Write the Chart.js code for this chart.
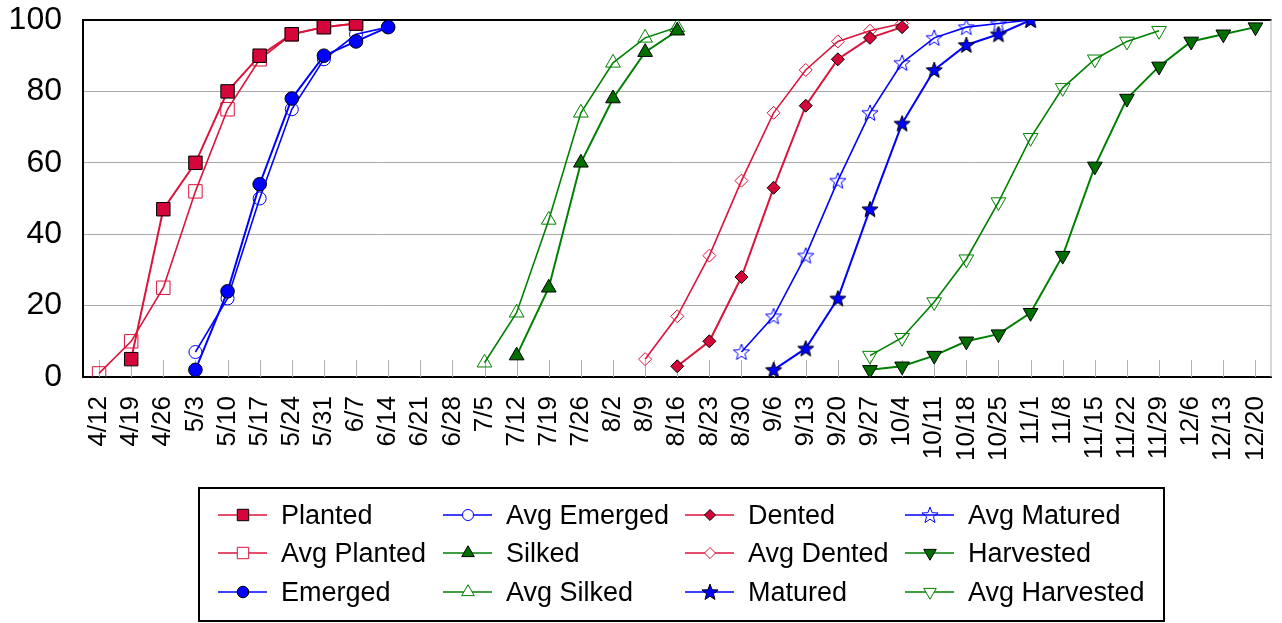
<!DOCTYPE html>
<html><head><meta charset="utf-8">
<script src="https://cdn.jsdelivr.net/npm/chart.js@4/dist/chart.umd.min.js"></script>
<style>html,body{margin:0;padding:0;background:#fff}canvas{display:block}</style>
</head><body><canvas id="c" width="1282" height="623"></canvas>
<script>
// ---- data ----
const weeks = ['4/12','4/19','4/26','5/3','5/10','5/17','5/24','5/31','6/7','6/14','6/21','6/28','7/5','7/12','7/19','7/26','8/2','8/9','8/16','8/23','8/30','9/6','9/13','9/20','9/27','10/4','10/11','10/18','10/25','11/1','11/8','11/15','11/22','11/29','12/6','12/13','12/20'];
const yTickValues = [0,20,40,60,80,100];

const planted = [5,47,60,80,90,96,98,99];                 const plantedStart = '4/19';
const avgPlanted = [1,10,25,52,75,89,96,98,99];           const avgPlantedStart = '4/12';
const emerged = [2,24,54,78,90,94,98];                    const emergedStart = '5/3';
const avgEmerged = [7,22,50,75,89,96,98];                 const avgEmergedStart = '5/3';
const silked = [6,25,60,78,91,97];                        const silkedStart = '7/12';
const avgSilked = [4,18,44,74,88,95,98];                  const avgSilkedStart = '7/5';
const dented = [3,10,28,53,76,89,95,98];                  const dentedStart = '8/16';
const avgDented = [5,17,34,55,74,86,94,97,99];            const avgDentedStart = '8/9';
const matured = [2,8,22,47,71,86,93,96,100];              const maturedStart = '9/6';
const avgMatured = [7,17,34,55,74,88,95,98,99,100];       const avgMaturedStart = '8/30';
const harvested = [2,3,6,10,12,18,34,59,78,87,94,96,98];  const harvestedStart = '9/27';
const avgHarvested = [6,11,21,33,49,67,81,89,94,97];      const avgHarvestedStart = '9/27';

function place(start, values) {
  const i0 = weeks.indexOf(start);
  return weeks.map((w, i) => (i >= i0 && i - i0 < values.length) ? values[i - i0] : null);
}

// ---- styles ----
const RED = '#dc143c', RED_FILL = '#d4063a';
const BLUE = '#0000ff', BLUE_FILL = '#0000ff';
const GREEN = '#008000', GREEN_FILL = '#006f00';

function makeStar(fill, stroke) {
  const c = document.createElement('canvas');
  c.width = 20; c.height = 20;
  const g = c.getContext('2d');
  g.beginPath();
  for (let k = 0; k < 10; k++) {
    const r = k % 2 === 0 ? 8.5 : 3.6;
    const a = -Math.PI / 2 + k * Math.PI / 5;
    const px = 10 + r * Math.cos(a), py = 10.6 + r * Math.sin(a);
    if (k === 0) g.moveTo(px, py); else g.lineTo(px, py);
  }
  g.closePath();
  if (fill) { g.fillStyle = fill; g.fill(); }
  g.lineWidth = 1; g.strokeStyle = stroke; g.stroke();
  return c;
}
const starFilled = makeStar(BLUE_FILL, '#000');
const starHollow = makeStar(null, BLUE);

const series = [
  {label:'Planted',       data: place(plantedStart, planted),           color: RED,   fill: RED_FILL,   style:'rect',     r:9.5, rot:0},
  {label:'Avg Planted',   data: place(avgPlantedStart, avgPlanted),     color: RED,   fill: null,       style:'rect',     r:9.5, rot:0},
  {label:'Emerged',       data: place(emergedStart, emerged),           color: BLUE,  fill: BLUE_FILL,  style:'circle',   r:6.8, rot:0},
  {label:'Avg Emerged',   data: place(avgEmergedStart, avgEmerged),     color: BLUE,  fill: null,       style:'circle',   r:6.5, rot:0},
  {label:'Silked',        data: place(silkedStart, silked),             color: GREEN, fill: GREEN_FILL, style:'triangle', r:8.5, rot:0},
  {label:'Avg Silked',    data: place(avgSilkedStart, avgSilked),       color: GREEN, fill: null,       style:'triangle', r:8.5, rot:0},
  {label:'Dented',        data: place(dentedStart, dented),             color: RED,   fill: RED_FILL,   style:'rectRot',  r:6.5, rot:0},
  {label:'Avg Dented',    data: place(avgDentedStart, avgDented),       color: RED,   fill: null,       style:'rectRot',  r:6.5, rot:0},
  {label:'Matured',       data: place(maturedStart, matured),           color: BLUE,  fill: BLUE_FILL,  style:'star',     r:8,   rot:0},
  {label:'Avg Matured',   data: place(avgMaturedStart, avgMatured),     color: BLUE,  fill: null,       style:'star',     r:8,   rot:0},
  {label:'Harvested',     data: place(harvestedStart, harvested),       color: GREEN, fill: GREEN_FILL, style:'triangle', r:8.5, rot:180},
  {label:'Avg Harvested', data: place(avgHarvestedStart, avgHarvested), color: GREEN, fill: null,       style:'triangle', r:8.5, rot:180}
];

const datasets = series.map(s => ({
  label: s.label,
  data: s.data,
  borderColor: s.color,
  backgroundColor: s.color,
  borderWidth: s.fill ? 2 : 1.6,
  pointStyle: s.style === 'star' ? (s.fill ? starFilled : starHollow) : s.style,
  pointRadius: s.r,
  pointHoverRadius: s.r,
  pointRotation: s.rot,
  pointBackgroundColor: s.fill ? s.fill : 'rgba(0,0,0,0)',
  pointBorderColor: s.fill ? '#000' : s.color,
  pointBorderWidth: 1,
  tension: 0,
  spanGaps: false,
  fill: false
}));

// ---- plugins ----
const frame = {
  id: 'frame',
  beforeDatasetsDraw(chart) {
    const {ctx, chartArea: a, scales: {x}} = chart;
    ctx.save();
    ctx.strokeStyle = '#b0b0b0';
    ctx.lineWidth = 1;
    ctx.beginPath();
    for (let i = 0; i < weeks.length; i++) {
      const px = Math.round(x.getPixelForValue(i)) + 0.5;
      ctx.moveTo(px, a.bottom - 17);
      ctx.lineTo(px, a.bottom);
    }
    ctx.moveTo(a.right - 0.5, a.top);
    ctx.lineTo(a.right - 0.5, a.bottom);
    ctx.stroke();
    ctx.restore();
  }
};

function drawMarker(ctx, s, x, y) {
  if (s.style === 'star') {
    const img = s.fill ? starFilled : starHollow;
    ctx.drawImage(img, x - img.width / 2, y - img.height / 2);
    return;
  }
  ctx.save();
  ctx.translate(x, y);
  ctx.rotate(s.rot * Math.PI / 180);
  ctx.beginPath();
  const r = s.r * 0.85;
  if (s.style === 'rect') {
    const h = r * Math.SQRT1_2;
    ctx.rect(-h, -h, 2 * h, 2 * h);
  } else if (s.style === 'circle') {
    ctx.arc(0, 0, r, 0, Math.PI * 2);
  } else if (s.style === 'rectRot') {
    ctx.moveTo(-r, 0); ctx.lineTo(0, -r); ctx.lineTo(r, 0); ctx.lineTo(0, r); ctx.closePath();
  } else if (s.style === 'triangle') {
    for (let k = 0; k < 3; k++) {
      const a = k * 2 * Math.PI / 3;
      const px = Math.sin(a) * r, py = -Math.cos(a) * r;
      if (k === 0) ctx.moveTo(px, py); else ctx.lineTo(px, py);
    }
    ctx.closePath();
  }
  if (s.fill) { ctx.fillStyle = s.fill; ctx.fill(); ctx.strokeStyle = '#000'; }
  else { ctx.fillStyle = '#fff'; ctx.fill(); ctx.strokeStyle = s.color; }
  ctx.lineWidth = 1;
  ctx.stroke();
  ctx.restore();
}

const boxLegend = {
  id: 'boxLegend',
  afterDraw(chart) {
    const ctx = chart.ctx;
    ctx.save();
    ctx.strokeStyle = '#000';
    ctx.lineWidth = 2;
    ctx.strokeRect(199, 488, 965, 133);
    const colX = [218, 443, 685, 905];
    const rowY = [515, 553, 592];
    ctx.font = '27px "Liberation Sans", Arial, sans-serif';
    ctx.textBaseline = 'middle';
    series.forEach((s, i) => {
      const cx = colX[Math.floor(i / 3)], cy = rowY[i % 3];
      ctx.strokeStyle = s.color;
      ctx.lineWidth = 1.6;
      ctx.beginPath();
      ctx.moveTo(cx, cy); ctx.lineTo(cx + 49, cy);
      ctx.stroke();
      drawMarker(ctx, s, cx + 25, cy);
      ctx.fillStyle = '#000';
      ctx.fillText(s.label, cx + 63, cy + 2);
    });
    ctx.restore();
  }
};

new Chart(document.getElementById('c'), {
  type: 'line',
  data: { labels: weeks, datasets },
  options: {
    responsive: false,
    animation: false,
    devicePixelRatio: 1,
    layout: { padding: { top: 20, right: 1, bottom: 135, left: 0 } },
    plugins: { legend: { display: false }, tooltip: { enabled: false } },
    scales: {
      x: {
        offset: true,
        grid: { display: true, drawOnChartArea: false, drawTicks: false },
        border: { display: true, color: '#000', width: 2 },
        ticks: {
          autoSkip: false, maxRotation: 90, minRotation: 90, padding: 19,
          color: '#000', font: { family: '"Liberation Sans", Arial, sans-serif', size: 26 }
        },
        afterFit(scale) { scale.height = 111; scale.paddingLeft = 0; scale.paddingRight = 0; }
      },
      y: {
        min: 0, max: 100,
        afterBuildTicks(scale) { scale.ticks = yTickValues.map(v => ({ value: v })); },
        grid: {
          drawTicks: false,
          color: c => c.tick && c.tick.value === 100 ? '#000' : (c.tick && c.tick.value === 0 ? 'rgba(0,0,0,0)' : '#aaaaaa'),
          lineWidth: c => c.tick && c.tick.value === 100 ? 2 : 1
        },
        border: { display: true, color: '#000', width: 2 },
        ticks: {
          padding: 21, color: '#000',
          font: { family: '"Liberation Sans", Arial, sans-serif', size: 32 }
        },
        afterFit(scale) { scale.width = 83; scale.paddingTop = 0; scale.paddingBottom = 0; }
      }
    }
  },
  plugins: [frame, boxLegend]
});
</script>
</body></html>
